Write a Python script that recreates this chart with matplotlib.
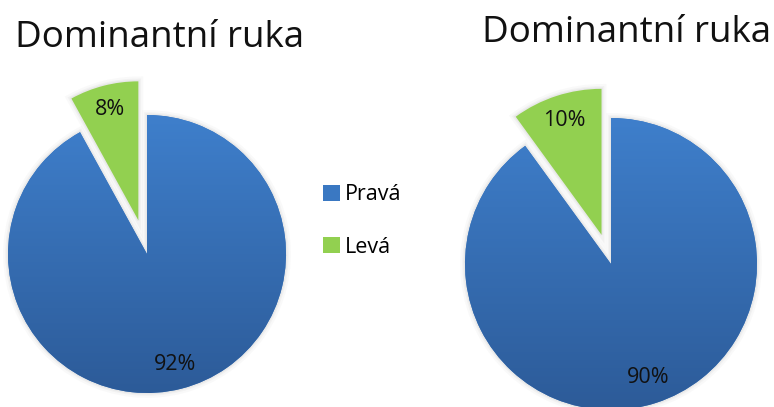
import matplotlib
matplotlib.use("Agg")
import matplotlib.pyplot as plt
import numpy as np
from matplotlib.colors import LinearSegmentedColormap
from matplotlib.patches import Wedge

categories = ["Pravá", "Levá"]
left_values = [92, 8]
right_values = [90, 10]
left_title = "Dominantní ruka"
right_title = "Dominantní ruka"
colors = ["#3A78C2", "#92D050"]

plt.rcParams['font.family'] = ['Open Sans', 'DejaVu Sans']

W, H = 774, 407
fig = plt.figure(figsize=(W / 100, H / 100), dpi=100)

grad = np.linspace(0, 1, 256).reshape(-1, 1)
blue_cmap = LinearSegmentedColormap.from_list('b', ['#3F80CD', '#2C5A97'])


def pie_axes(cx, cy, r, pad=1.35):
    s = r * pad
    ax = fig.add_axes([(cx - s) / W, (H - cy - s) / H, 2 * s / W, 2 * s / H])
    ax.axis('off')
    return ax, pad


def draw_pie(ax, pad, values, explode_frac):
    wedges, texts, autotexts = ax.pie(
        values, explode=[0, explode_frac], colors=colors, startangle=90,
        counterclock=False, autopct=lambda p: f"{p:.0f}%", pctdistance=0.82,
        textprops=dict(fontsize=15.5, color='#111111'),
        wedgeprops=dict(linewidth=0))
    # soft shadow
    for w in wedges:
        for lw, a in [(7, 0.04), (4, 0.06), (2, 0.08)]:
            sh = Wedge(w.center, w.r, w.theta1, w.theta2, facecolor='none',
                       edgecolor='#7f7f7f', linewidth=lw, alpha=a, zorder=0.5)
            ax.add_patch(sh)
    im = ax.imshow(grad, extent=[-1.05, 1.05, -1.05, 1.05], cmap=blue_cmap,
                   origin='upper', aspect='auto', zorder=1.1)
    im.set_clip_path(wedges[0])
    for t in autotexts:
        t.set_zorder(5)
    ax.set_xlim(-pad, pad)
    ax.set_ylim(-pad, pad)
    ax.set_aspect('equal')
    return wedges


axL, padL = pie_axes(147, 254, 139)
wedges = draw_pie(axL, padL, left_values, 0.25)
axR, padR = pie_axes(611, 264, 146)
draw_pie(axR, padR, right_values, 0.21)

fig.text(159.5 / W, 1 - 47 / H, left_title, ha='center', va='baseline', fontsize=26.5, color='#111111')
fig.text(627 / W, 1 - 42 / H, right_title, ha='center', va='baseline', fontsize=26.5, color='#111111')

fig.legend(wedges, categories, loc='center left', bbox_to_anchor=(312 / W, 1 - 221 / H),
           frameon=False, fontsize=15.5, handlelength=0.8, handleheight=0.8,
           handletextpad=0.25, labelspacing=1.45, borderpad=0)

fig.savefig("out.png", dpi=100)
